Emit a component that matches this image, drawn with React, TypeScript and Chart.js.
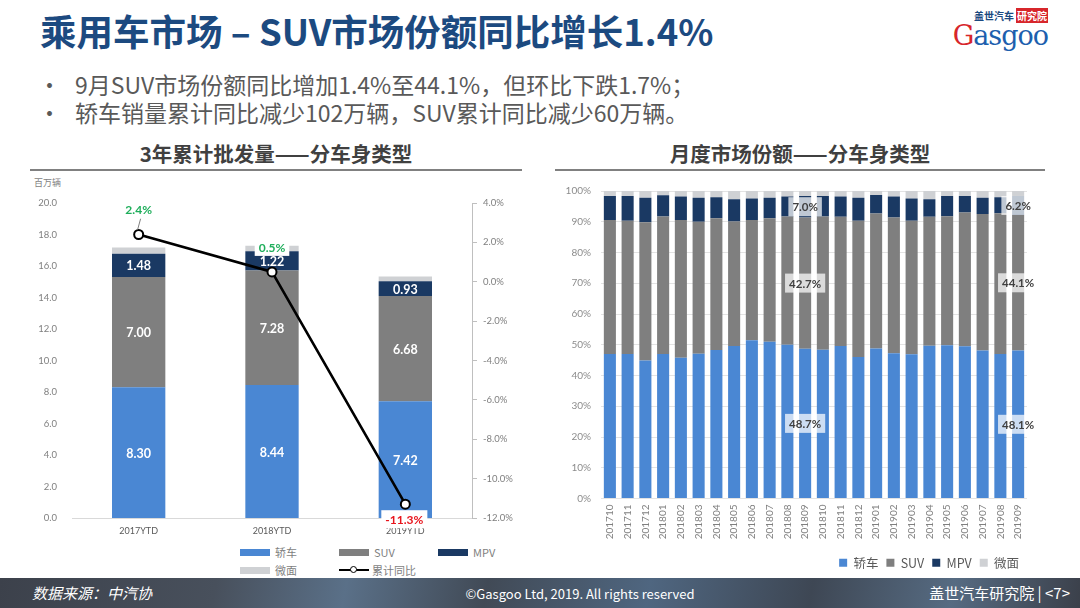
import React, { useEffect, useRef } from "react";
import { Chart, registerables } from "chart.js";

Chart.register(...registerables);

// ---------- Left chart data (百万辆) ----------
const ytdCategories = ["2017YTD", "2018YTD", "2019YTD"];
const ytdSedan = [8.3, 8.44, 7.42];
const ytdSUV = [7.0, 7.28, 6.68];
const ytdMPV = [1.48, 1.22, 0.93];
const ytdMicro = [0.4, 0.34, 0.3];
const ytdGrowth = [2.4, 0.5, -11.3];

// ---------- Right chart data (%) ----------
const months = [
  "201710", "201711", "201712", "201801", "201802", "201803", "201804", "201805",
  "201806", "201807", "201808", "201809", "201810", "201811", "201812", "201901",
  "201902", "201903", "201904", "201905", "201906", "201907", "201908", "201909",
];
const shareSedan = [
  47.0, 47.0, 44.9, 47.0, 45.8, 47.1, 48.3, 49.6, 51.5, 51.0, 50.0, 48.7,
  48.4, 49.6, 46.0, 48.8, 47.2, 46.9, 49.7, 49.8, 49.5, 48.1, 47.0, 48.1,
];
const shareSUV = [
  43.6, 43.3, 44.9, 44.7, 44.8, 42.9, 42.8, 40.5, 39.1, 40.1, 41.7, 42.7,
  43.3, 42.0, 44.3, 43.9, 44.2, 43.4, 41.9, 42.0, 43.5, 44.4, 45.8, 44.1,
];
const shareMPV = [
  7.8, 8.1, 8.0, 6.9, 7.6, 7.8, 6.9, 7.2, 7.0, 6.7, 6.5, 7.0,
  6.7, 6.6, 7.5, 6.0, 6.8, 7.3, 5.7, 6.6, 5.4, 5.3, 5.2, 6.2,
];
const shareMicro = [
  1.6, 1.6, 2.2, 1.4, 1.8, 2.2, 2.0, 2.7, 2.4, 2.2, 1.8, 1.6,
  1.6, 1.8, 2.2, 1.3, 1.8, 2.4, 2.7, 1.6, 1.6, 2.2, 2.0, 1.6,
];
const labeledMonths = ["201809", "201909"];

const seriesNames = ["轿车", "SUV", "MPV", "微面"];
const lineName = "累计同比";

const BLUE = "#4a87d3";
const GRAY = "#7f7f7f";
const NAVY = "#1a3963";
const LIGHT = "#cfd1d4";

const CJK = '"Noto Sans CJK SC", "Noto Sans", sans-serif';
const NUM = 'Lato, "Noto Sans CJK SC", sans-serif';

function boxFill(ctx: CanvasRenderingContext2D, cx: number, cy: number, w: number, h: number, fill: string) {
  ctx.fillStyle = fill;
  ctx.fillRect(cx - w / 2, cy - h / 2, w, h);
}

const leftLabelsPlugin = {
  id: "leftLabels",
  afterDatasetDraw(chart: any, args: any) {
    const idx = args.index;
    if (idx > 2) return;
    const ctx = chart.ctx as CanvasRenderingContext2D;
    const meta = chart.getDatasetMeta(idx);
    ctx.save();
    ctx.fillStyle = "#ffffff";
    ctx.font = `bold 12.5px ${NUM}`;
    ctx.textAlign = "center";
    ctx.textBaseline = "middle";
    meta.data.forEach((bar: any, i: number) => {
      const v = chart.data.datasets[idx].data[i] as number;
      const p = bar.getProps(["x", "y", "base"], true);
      ctx.fillText(v.toFixed(2), p.x, (p.y + p.base) / 2 + 1);
    });
    ctx.restore();
  },
  afterDatasetsDraw(chart: any) {
    const ctx = chart.ctx as CanvasRenderingContext2D;
    const lineIdx = 4;
    const meta = chart.getDatasetMeta(lineIdx);
    ctx.save();
    ctx.font = `bold 12px ${NUM}`;
    ctx.textAlign = "center";
    ctx.textBaseline = "middle";
    meta.data.forEach((pt: any, i: number) => {
      const v = chart.data.datasets[lineIdx].data[i] as number;
      const txt = v.toFixed(1) + "%";
      const neg = v < 0;
      const w = ctx.measureText(txt).width + 8;
      const cy = neg ? pt.y + 15 : pt.y - 25;
      const cx = pt.x + (neg ? -1 : 0);
      if (i === 0) {
        ctx.strokeStyle = "#7f7f7f";
        ctx.lineWidth = 1;
        ctx.beginPath();
        ctx.moveTo(pt.x + 2, cy + 9);
        ctx.lineTo(pt.x - 1, pt.y - 5);
        ctx.stroke();
      }
      boxFill(ctx, cx, cy, w, 18, "#ffffff");
      ctx.fillStyle = neg ? "#e8141c" : "#1fae5b";
      ctx.fillText(txt, cx, cy + 1);
    });
    ctx.restore();
  },
};

const rightLabelsPlugin = {
  id: "rightLabels",
  afterDatasetsDraw(chart: any) {
    const ctx = chart.ctx as CanvasRenderingContext2D;
    ctx.save();
    ctx.font = `bold 11.5px ${NUM}`;
    ctx.textAlign = "center";
    ctx.textBaseline = "middle";
    [0, 1, 2].forEach((di) => {
      const meta = chart.getDatasetMeta(di);
      labeledMonths.forEach((m) => {
        const i = months.indexOf(m);
        const bar: any = meta.data[i];
        const p = bar.getProps(["x", "y", "base"], true);
        const v = chart.data.datasets[di].data[i] as number;
        const txt = v.toFixed(1) + "%";
        const w = ctx.measureText(txt).width + 8;
        const cy = (p.y + p.base) / 2;
        boxFill(ctx, p.x, cy, w, 19, "rgba(255,255,255,0.72)");
        ctx.fillStyle = "#404040";
        ctx.fillText(txt, p.x, cy + 1);
      });
    });
    ctx.restore();
  },
};

export default function App() {
  const leftRef = useRef<HTMLCanvasElement>(null);
  const rightRef = useRef<HTMLCanvasElement>(null);

  useEffect(() => {
    const barCommon = {
      type: "bar" as const,
      stack: "s",
      yAxisID: "y",
      order: 1,
      barPercentage: 0.4,
      categoryPercentage: 1,
    };
    const left = new Chart(leftRef.current!, {
      type: "bar",
      data: {
        labels: ytdCategories,
        datasets: [
          { ...barCommon, label: seriesNames[0], data: ytdSedan, backgroundColor: BLUE },
          { ...barCommon, label: seriesNames[1], data: ytdSUV, backgroundColor: GRAY },
          { ...barCommon, label: seriesNames[2], data: ytdMPV, backgroundColor: NAVY },
          { ...barCommon, label: seriesNames[3], data: ytdMicro, backgroundColor: LIGHT },
          {
            type: "line" as const,
            label: lineName,
            data: ytdGrowth,
            yAxisID: "y1",
            order: 0,
            borderColor: "#000000",
            borderWidth: 2.6,
            pointRadius: 4.5,
            pointBackgroundColor: "#ffffff",
            pointBorderColor: "#000000",
            pointBorderWidth: 2,
            tension: 0,
          } as any,
        ],
      },
      options: {
        responsive: false,
        animation: false,
        layout: { padding: { top: 28, left: 0, right: 0, bottom: 0 } },
        plugins: { legend: { display: false }, tooltip: { enabled: false } },
        scales: {
          x: {
            stacked: true,
            grid: { display: false, drawTicks: false },
            border: { display: true, color: "#d9d9d9", width: 1 },
            ticks: { color: "#595959", font: { size: 9, family: NUM }, padding: 8 },
            afterFit: (s: any) => { s.height = 22; },
          },
          y: {
            stacked: true,
            min: 0,
            max: 20,
            grid: { display: false, drawTicks: false },
            border: { display: false },
            ticks: {
              stepSize: 2,
              color: "#7f7f7f",
              font: { size: 9.5, family: NUM },
              padding: 15,
              callback: (v: any) => Number(v).toFixed(1),
            },
            afterFit: (s: any) => { s.width = 52; },
          },
          y1: {
            position: "right",
            min: -12,
            max: 4,
            grid: { drawOnChartArea: false, drawTicks: true, tickLength: 5, color: "#bfbfbf" },
            border: { display: true, color: "#bfbfbf", width: 1 },
            ticks: {
              stepSize: 2,
              color: "#7f7f7f",
              font: { size: 9.5, family: NUM },
              padding: 6,
              callback: (v: any) => Number(v).toFixed(1) + "%",
            },
            afterFit: (s: any) => { s.width = 70; },
          },
        },
      } as any,
      plugins: [leftLabelsPlugin],
    });

    const rCommon = { stack: "s", barPercentage: 0.68, categoryPercentage: 1 };
    const right = new Chart(rightRef.current!, {
      type: "bar",
      data: {
        labels: months,
        datasets: [
          { ...rCommon, label: seriesNames[0], data: shareSedan, backgroundColor: BLUE },
          { ...rCommon, label: seriesNames[1], data: shareSUV, backgroundColor: GRAY },
          { ...rCommon, label: seriesNames[2], data: shareMPV, backgroundColor: NAVY },
          { ...rCommon, label: seriesNames[3], data: shareMicro, backgroundColor: LIGHT },
        ],
      },
      options: {
        responsive: false,
        animation: false,
        layout: { padding: { top: 6, left: 0, right: 13, bottom: 0 } },
        plugins: {
          tooltip: { enabled: false },
          legend: {
            position: "bottom",
            align: "end",
            labels: {
              boxWidth: 8,
              boxHeight: 8,
              padding: 8,
              color: "#595959",
              font: { size: 12.5, family: CJK },
            },
          },
        },
        scales: {
          x: {
            stacked: true,
            grid: { display: false, drawTicks: false },
            border: { display: false },
            ticks: {
              color: "#7f7f7f",
              font: { size: 10, family: NUM },
              minRotation: 90,
              maxRotation: 90,
              padding: 6,
              autoSkip: false,
            },
            afterFit: (s: any) => { s.height = 50; },
          },
          y: {
            stacked: true,
            min: 0,
            max: 100,
            grid: { color: "#e3e3e3", drawTicks: false },
            border: { display: false },
            ticks: {
              stepSize: 10,
              color: "#8c8c8c",
              font: { size: 10, family: NUM },
              padding: 10,
              callback: (v: any) => v + "%",
            },
            afterFit: (s: any) => { s.width = 46; },
          },
        },
      } as any,
      plugins: [rightLabelsPlugin],
    });

    return () => {
      left.destroy();
      right.destroy();
    };
  }, []);

  const legendSwatch = (color: string) => (
    <span style={{ display: "inline-block", width: 30, height: 7, background: color, marginRight: 5 }} />
  );

  return (
    <div
      style={{
        position: "fixed",
        left: 0,
        top: 0,
        width: 1080,
        height: 608,
        overflow: "hidden",
        background: "#ffffff",
        fontFamily: CJK,
      }}
    >
      {/* Title */}
      <div
        style={{
          position: "absolute",
          left: 40,
          top: 11,
          fontSize: 36.5,
          lineHeight: "40px",
          fontWeight: 700,
          color: "#1c4a80",
          whiteSpace: "nowrap",
        }}
      >
        乘用车市场 – SUV市场份额同比增长1.4%
      </div>

      {/* Logo */}
      <div style={{ position: "absolute", left: 936, top: 10, width: 112, textAlign: "right" }}>
        <div style={{ fontSize: 10, lineHeight: "12px", fontWeight: 700, whiteSpace: "nowrap" }}>
          <span style={{ color: "#1c4a80" }}>盖世汽车</span>
          <span style={{ color: "#ffffff", background: "#d7262b", marginLeft: 2, padding: "0 1px" }}>研究院</span>
        </div>
        <div
          style={{
            fontFamily: '"DejaVu Serif", "Liberation Serif", serif',
            fontSize: 27,
            lineHeight: "28px",
            color: "#1d5fae",
            whiteSpace: "nowrap",
            letterSpacing: -1,
          }}
        >
          <span style={{ color: "#d7262b" }}>G</span>asgoo
        </div>
      </div>

      {/* Bullets */}
      {[
        "9月SUV市场份额同比增加1.4%至44.1%，但环比下跌1.7%；",
        "轿车销量累计同比减少102万辆，SUV累计同比减少60万辆。",
      ].map((t, i) => (
        <div
          key={i}
          style={{
            position: "absolute",
            left: 38,
            top: 70 + i * 28,
            fontSize: 23,
            lineHeight: "28px",
            color: "#595959",
            whiteSpace: "nowrap",
          }}
        >
          <span style={{ display: "inline-block", width: 37 }}>•</span>
          {t}
        </div>
      ))}

      {/* Chart titles */}
      <div
        style={{
          position: "absolute",
          left: 30,
          width: 492,
          top: 140,
          textAlign: "center",
          fontSize: 20.5,
          lineHeight: "26px",
          fontWeight: 700,
          color: "#404040",
        }}
      >
        3年累计批发量——分车身类型
      </div>
      <div style={{ position: "absolute", left: 30, width: 492, top: 169, height: 2, background: "#808080" }} />
      <div
        style={{
          position: "absolute",
          left: 555,
          width: 490,
          top: 140,
          textAlign: "center",
          fontSize: 20.5,
          lineHeight: "26px",
          fontWeight: 700,
          color: "#404040",
        }}
      >
        月度市场份额——分车身类型
      </div>
      <div style={{ position: "absolute", left: 555, width: 490, top: 169, height: 2, background: "#808080" }} />

      {/* Left chart */}
      <div style={{ position: "absolute", left: 34, top: 176, fontSize: 9, color: "#7f7f7f" }}>百万辆</div>
      <canvas ref={leftRef} width={522} height={365} style={{ position: "absolute", left: 20, top: 175 }} />

      {/* Left legend */}
      <div
        style={{
          position: "absolute",
          left: 240,
          top: 543,
          fontSize: 11,
          color: "#7f7f7f",
          lineHeight: "18px",
        }}
      >
        <div style={{ display: "flex" }}>
          <div style={{ width: 99, display: "flex", alignItems: "center" }}>{legendSwatch(BLUE)}{seriesNames[0]}</div>
          <div style={{ width: 99, display: "flex", alignItems: "center" }}>{legendSwatch(GRAY)}{seriesNames[1]}</div>
          <div style={{ width: 99, display: "flex", alignItems: "center" }}>{legendSwatch(NAVY)}{seriesNames[2]}</div>
        </div>
        <div style={{ display: "flex" }}>
          <div style={{ width: 99, display: "flex", alignItems: "center" }}>{legendSwatch(LIGHT)}{seriesNames[3]}</div>
          <div style={{ width: 120, display: "flex", alignItems: "center" }}>
            <span style={{ position: "relative", display: "inline-block", width: 30, height: 10, marginRight: 3 }}>
              <span style={{ position: "absolute", left: 0, top: 4, width: 30, height: 2, background: "#000" }} />
              <span
                style={{
                  position: "absolute",
                  left: 11,
                  top: 1,
                  width: 5,
                  height: 5,
                  borderRadius: "50%",
                  border: "1.5px solid #000",
                  background: "#fff",
                }}
              />
            </span>
            {lineName}
          </div>
        </div>
      </div>

      {/* Right chart */}
      <canvas ref={rightRef} width={485} height={404} style={{ position: "absolute", left: 555, top: 175 }} />

      {/* Footer */}
      <div
        style={{
          position: "absolute",
          left: 0,
          top: 578,
          width: 1080,
          height: 30,
          background:
            "linear-gradient(100deg, #3c414b 0%, #48505c 20%, #5a7088 32%, #414a56 45%, #4f6680 60%, #3e4754 75%, #566b82 88%, #3b404a 100%)",
          color: "#ffffff",
        }}
      >
        <div style={{ position: "absolute", left: 32, top: 6, fontSize: 15, fontStyle: "italic", lineHeight: "18px" }}>
          数据来源：中汽协
        </div>
        <div style={{ position: "absolute", left: 0, width: 1160, top: 7, textAlign: "center", fontSize: 13, lineHeight: "18px" }}>
          ©Gasgoo Ltd, 2019. All rights reserved
        </div>
        <div style={{ position: "absolute", right: 10, top: 6, fontSize: 15, lineHeight: "18px", whiteSpace: "nowrap" }}>
          盖世汽车研究院 | &lt;7&gt;
        </div>
      </div>
    </div>
  );
}
